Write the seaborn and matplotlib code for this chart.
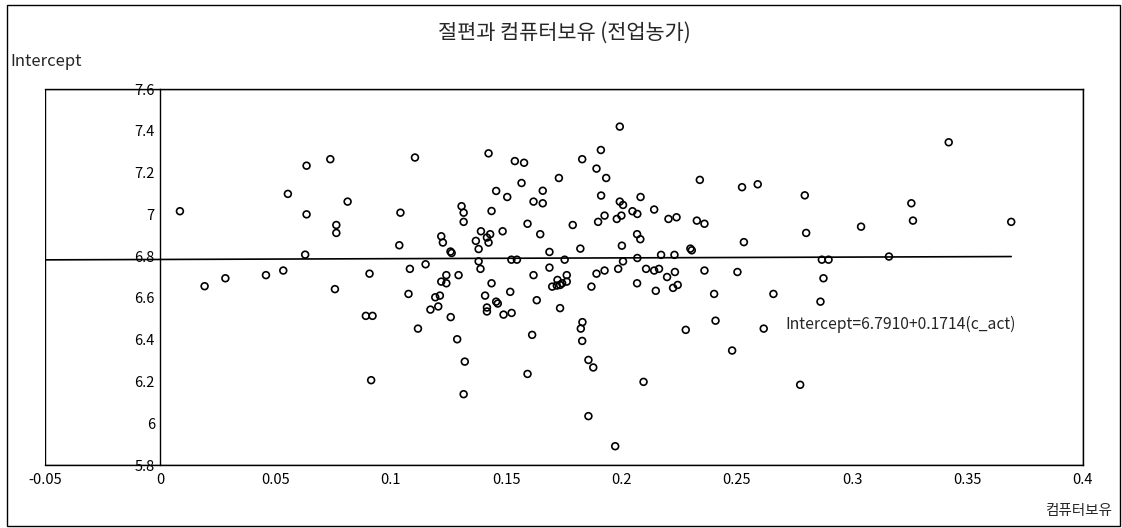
#! /usr/bin/env python3
'''
Scatter of farm-household intercepts against computer ownership share, with fitted line
'''
import numpy as np
import pandas as pd
import seaborn as sns
import matplotlib.pyplot as plt
from matplotlib.patches import Rectangle
from matplotlib.ticker import FuncFormatter, MultipleLocator

# values
c_act = [0.0085, 0.0634, 0.0553, 0.0634, 0.0628, 0.0192, 0.0282, 0.0458, 0.0533,
         0.0737, 0.1104, 0.0812, 0.1041, 0.0763, 0.0763, 0.1036, 0.1218, 0.1225,
         0.1258, 0.1263, 0.1150, 0.1082, 0.0907, 0.1240, 0.1218, 0.1240, 0.0757,
         0.1076, 0.1192, 0.1212, 0.1171, 0.1205, 0.1259, 0.0891, 0.0920, 0.1117,
         0.0914, 0.1423, 0.1537, 0.1577, 0.1829, 0.1891, 0.1728, 0.1566, 0.1456,
         0.1658, 0.1504, 0.1618, 0.1658, 0.1306, 0.1315, 0.1436, 0.1315, 0.1592,
         0.1788, 0.1390, 0.1484, 0.1430, 0.1368, 0.1416, 0.1423, 0.1647, 0.1380,
         0.1821, 0.1687, 0.1380, 0.1388, 0.1522, 0.1546, 0.1753, 0.1687, 0.1293,
         0.1436, 0.1618, 0.1762, 0.1722, 0.1762, 0.1699, 0.1719, 0.1733, 0.1742,
         0.1869, 0.1517, 0.1891, 0.1408, 0.1456, 0.1463, 0.1416, 0.1416, 0.1632,
         0.1733, 0.1488, 0.1523, 0.1287, 0.1612, 0.1830, 0.1823, 0.1829, 0.1320,
         0.1856, 0.1877, 0.1592, 0.1315, 0.1856, 0.1992, 0.1910, 0.1933, 0.2339,
         0.1911, 0.2082, 0.1992, 0.2006, 0.2047, 0.2068, 0.2141, 0.1926, 0.1898,
         0.1979, 0.1999, 0.2203, 0.2238, 0.2326, 0.2359, 0.2067, 0.2081, 0.2001,
         0.2298, 0.2304, 0.2171, 0.2229, 0.2068, 0.2006, 0.1985, 0.1926, 0.2106,
         0.2141, 0.2162, 0.2231, 0.2359, 0.2502, 0.2197, 0.2067, 0.2223, 0.2243,
         0.2148, 0.2401, 0.2407, 0.2278, 0.2479, 0.2095, 0.1972, 0.2522, 0.2590,
         0.2794, 0.2800, 0.3038, 0.2530, 0.2868, 0.2897, 0.2875, 0.2658, 0.2862,
         0.2616, 0.2774, 0.3418, 0.3256, 0.3263, 0.3689, 0.3159]
intercept = [7.015, 7.233, 7.098, 7.000, 6.807, 6.656, 6.694, 6.709, 6.731,
             7.264, 7.272, 7.061, 7.008, 6.949, 6.911, 6.852, 6.895, 6.865,
             6.822, 6.815, 6.761, 6.739, 6.716, 6.709, 6.678, 6.670, 6.642,
             6.619, 6.603, 6.611, 6.544, 6.559, 6.508, 6.514, 6.514, 6.453,
             6.206, 7.292, 7.255, 7.247, 7.264, 7.219, 7.174, 7.150, 7.112,
             7.113, 7.083, 7.061, 7.053, 7.039, 7.008, 7.016, 6.964, 6.955,
             6.949, 6.919, 6.919, 6.905, 6.873, 6.889, 6.865, 6.905, 6.834,
             6.836, 6.820, 6.775, 6.739, 6.783, 6.783, 6.783, 6.745, 6.709,
             6.670, 6.709, 6.709, 6.686, 6.678, 6.654, 6.659, 6.662, 6.670,
             6.654, 6.629, 6.716, 6.611, 6.582, 6.573, 6.554, 6.535, 6.589,
             6.551, 6.520, 6.528, 6.402, 6.423, 6.484, 6.453, 6.394, 6.295,
             6.303, 6.267, 6.236, 6.139, 6.034, 7.420, 7.308, 7.174, 7.165,
             7.090, 7.083, 7.061, 7.045, 7.015, 7.002, 7.023, 6.994, 6.964,
             6.978, 6.994, 6.978, 6.986, 6.970, 6.955, 6.905, 6.881, 6.850,
             6.836, 6.828, 6.806, 6.806, 6.791, 6.775, 6.739, 6.731, 6.739,
             6.731, 6.739, 6.724, 6.731, 6.724, 6.700, 6.670, 6.648, 6.662,
             6.634, 6.619, 6.491, 6.447, 6.348, 6.198, 5.890, 7.130, 7.144,
             7.091, 6.911, 6.941, 6.867, 6.783, 6.783, 6.694, 6.619, 6.582,
             6.453, 6.184, 7.345, 7.053, 6.970, 6.964, 6.798]

# fitted line as drawn in the chart (nearly flat)
line_const = 6.784
line_slope = 0.038
fit_label = 'Intercept=6.7910+0.1714(c_act)'

title = '절편과 컴퓨터보유 (전업농가)'
xlabel = '컴퓨터보유'
ylabel = 'Intercept'
xlim = (-0.05, 0.4)
ylim = (5.8, 7.6)

sns.set_style('white')
plt.rcParams['font.family'] = ['Noto Sans CJK KR', 'DejaVu Sans']
plt.rcParams['axes.unicode_minus'] = False

df = pd.DataFrame({'c_act': c_act, 'Intercept': intercept})

fig = plt.figure(figsize=(11.22, 5.28), dpi=100)
ax = fig.add_axes([0.0401, 0.1193, 0.9251, 0.7121])

# scatter of open circles
sns.scatterplot(data=df, x='c_act', y='Intercept', ax=ax, marker='o', s=24,
                facecolors='none', edgecolor='black', linewidth=1.2, zorder=3)

# fitted line from the left edge to the largest observation
line_x = np.array([xlim[0], max(c_act)])
line_df = pd.DataFrame({'x': line_x, 'y': line_const + line_slope * line_x})
sns.lineplot(data=line_df, x='x', y='y', ax=ax, color='black', linewidth=1.2, zorder=2)

ax.set_xlim(*xlim)
ax.set_ylim(*ylim)
ax.xaxis.set_major_locator(MultipleLocator(0.05))
ax.yaxis.set_major_locator(MultipleLocator(0.2))
fmt = FuncFormatter(lambda v, p: '%g' % round(v, 2))
ax.xaxis.set_major_formatter(fmt)
ax.yaxis.set_major_formatter(fmt)

# box around plot area, y axis crossing at x = 0
for side in ['top', 'right', 'bottom']:
    ax.spines[side].set_color('black')
    ax.spines[side].set_linewidth(1)
ax.spines['left'].set_position(('data', 0))
ax.spines['left'].set_color('black')
ax.spines['left'].set_linewidth(1)
ax.add_patch(Rectangle((0, 0), 1, 1, transform=ax.transAxes, fill=False,
                       edgecolor='black', linewidth=1, zorder=1))

ax.tick_params(axis='y', direction='in', length=5, width=1, pad=4, labelsize=10.5, colors='black')
ax.tick_params(axis='x', direction='in', length=5, width=1, pad=6, labelsize=10.5, colors='black')
ax.set_xlabel('')
ax.set_ylabel('')

ax.text(0.2709, 6.471, fit_label, fontsize=11.3, va='center', ha='left')

fig.text(0.503, 0.937, title, fontsize=15, ha='center', va='center')
fig.text(0.009, 0.883, ylabel, fontsize=12, ha='left', va='center')
fig.text(0.962, 0.032, xlabel, fontsize=10.5, ha='center', va='center')

# outer frame of the figure
fig.add_artist(Rectangle((0.006, 0.004), 0.992, 0.986, transform=fig.transFigure,
                         fill=False, edgecolor='black', linewidth=1))

fig.savefig('out.png', dpi=100)
